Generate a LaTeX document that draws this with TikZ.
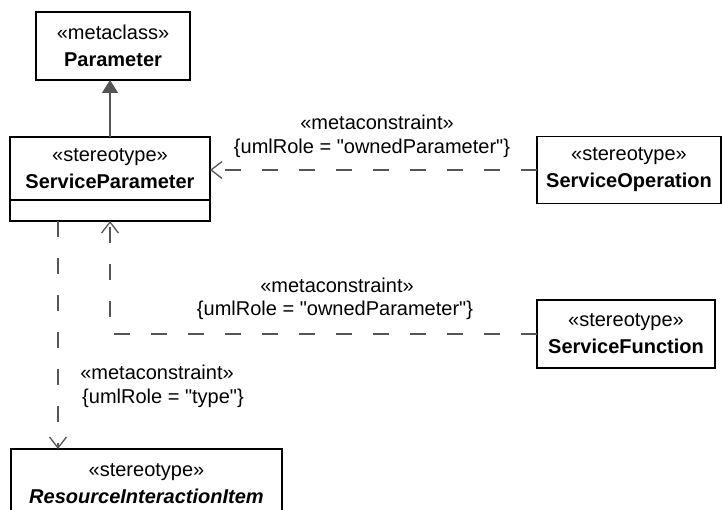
\documentclass[tikz,border=0pt]{standalone}
\usepackage{fontspec}
\setmainfont{Liberation Sans}
\usetikzlibrary{arrows.meta}
\definecolor{conngray}{RGB}{85,85,85}
\tikzset{
  umlbox/.style={draw, line width=1.4pt, fill=white, align=center, inner sep=0pt, outer sep=0pt},
  dep/.style={draw=conngray, line width=1.3pt, dash pattern=on 16pt off 21pt,
    -{Straight Barb[length=11pt,width=17pt,line width=1.3pt]}},
  gen/.style={draw=conngray, line width=1.3pt,
    -{Triangle[length=13pt,width=16pt,fill=conngray]}},
  lbl/.style={inner sep=0pt}
}
\newcommand{\qq}{\textquotedbl}

\begin{document}
\begin{tikzpicture}[x=1pt, y=-1pt, font=\fontsize{20}{27}\selectfont]
  \clip (0,0) rectangle (722,510);
  % classes
  \node[umlbox, minimum width=154pt, minimum height=68pt] (param) at (113,46)
    {«metaclass»\\\textbf{Parameter}};
  \node[umlbox, minimum width=200pt, minimum height=63pt] (sp) at (110,168.5)
    {«stereotype»\\\textbf{ServiceParameter}};
  \node[umlbox, minimum width=200pt, minimum height=21pt, anchor=north] (spc) at (sp.south) {};
  \node[umlbox, minimum width=184pt, minimum height=67pt] (so) at (629,170)
    {«stereotype»\\\textbf{ServiceOperation}};
  \node[umlbox, minimum width=178pt, minimum height=68pt] (sf) at (626,334)
    {«stereotype»\\\textbf{ServiceFunction}};
  \node[umlbox, minimum width=271pt, minimum height=69pt] (rii) at (146.5,483.5)
    {«stereotype»\\\textbf{\itshape ResourceInteractionItem}};
  % generalization
  \draw[gen] (sp.north) -- (sp.north |- param.south);
  % metaconstraints
  \draw[dep] (so.west) -- (so.west -| sp.east);
  \draw[dep] (sf.west) -| (spc.south);
  \coordinate (tyS) at ([xshift=-52pt]spc.south);
  \draw[dep] (tyS) -- (tyS |- rii.north);
  \node[lbl] (mcOp) at (377,122) {«metaconstraint»};
  \node[lbl] (urOp) at (372,148) {\{umlRole = \qq ownedParameter\qq\}};
  \node[lbl] (mcFn) at (337,285) {«metaconstraint»};
  \node[lbl] (urFn) at (335,310) {\{umlRole = \qq ownedParameter\qq\}};
  \node[lbl] (mcTy) at (157,372) {«metaconstraint»};
  \node[lbl] (urTy) at (163,398) {\{umlRole = \qq type\qq\}};
\end{tikzpicture}
\end{document}
